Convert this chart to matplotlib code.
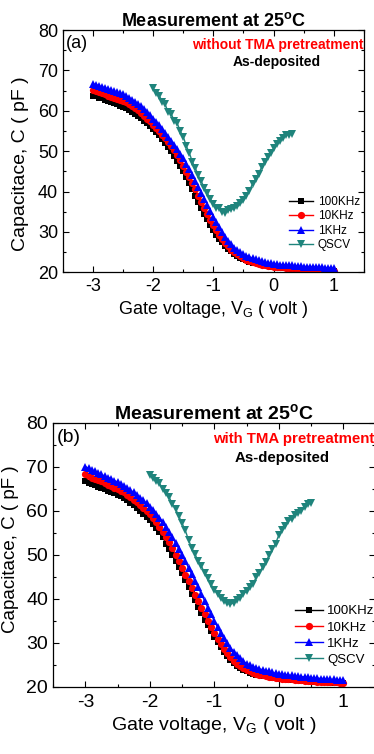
import matplotlib
matplotlib.use('Agg')
import matplotlib.pyplot as plt
from matplotlib.ticker import MultipleLocator
import numpy as np

plt.rcParams['font.family'] = ['Liberation Sans', 'DejaVu Sans']
plt.rcParams['mathtext.fontset'] = 'custom'
plt.rcParams['mathtext.rm'] = 'Liberation Sans'
plt.rcParams['mathtext.bf'] = 'Liberation Sans:bold'
plt.rcParams['mathtext.it'] = 'Liberation Sans:italic'
plt.rcParams['axes.unicode_minus'] = False

# gate voltage sweeps
v_cv = np.round(np.linspace(-3.0, 1.0, 81), 2)
v_qs_a = np.round(np.linspace(-2.0, 0.3, 47), 2)
v_qs_b = np.round(np.linspace(-2.0, 0.5, 51), 2)

# (a) without TMA pretreatment
c100k_a = [63.8, 63.6, 63.3, 63.1, 62.8, 62.5, 62.2, 61.9, 61.6, 61.3,
           61.0, 60.6, 60.2, 59.8, 59.3, 58.8, 58.2, 57.6, 57.0, 56.3,
           55.5, 54.7, 53.9, 53.0, 52.1, 51.1, 50.0, 48.9, 47.6, 46.3,
           45.0, 43.5, 42.0, 40.5, 39.0, 37.5, 36.0, 34.5, 33.1, 31.8,
           30.5, 29.3, 28.3, 27.4, 26.6, 25.8, 25.2, 24.6, 24.1, 23.6,
           23.2, 22.9, 22.6, 22.4, 22.2, 22.0, 21.8, 21.7, 21.5, 21.4,
           21.3, 21.2, 21.1, 21.1, 21.0, 21.0, 20.9, 20.9, 20.8, 20.8,
           20.7, 20.7, 20.6, 20.6, 20.5, 20.5, 20.5, 20.4, 20.4, 20.3,
           20.3]
c10k_a = [65.2, 64.9, 64.6, 64.4, 64.1, 63.8, 63.5, 63.2, 62.9, 62.7,
          62.5, 62.1, 61.7, 61.2, 60.7, 60.1, 59.5, 58.8, 58.1, 57.4,
          56.6, 55.8, 55.0, 54.1, 53.2, 52.3, 51.3, 50.2, 49.0, 47.7,
          46.3, 44.9, 43.5, 42.0, 40.5, 39.0, 37.5, 36.0, 34.5, 33.0,
          31.6, 30.4, 29.3, 28.3, 27.3, 26.4, 25.6, 25.0, 24.4, 23.9,
          23.5, 23.1, 22.8, 22.5, 22.3, 22.1, 21.9, 21.8, 21.6, 21.5,
          21.4, 21.3, 21.2, 21.2, 21.1, 21.1, 21.0, 21.0, 20.9, 20.9,
          20.8, 20.8, 20.7, 20.7, 20.6, 20.6, 20.5, 20.5, 20.5, 20.4,
          20.4]
c1k_a = [66.7, 66.5, 66.2, 65.9, 65.7, 65.4, 65.1, 64.8, 64.6, 64.4,
         64.1, 63.7, 63.3, 62.8, 62.3, 61.7, 61.1, 60.4, 59.7, 58.9,
         58.1, 57.3, 56.4, 55.5, 54.6, 53.6, 52.6, 51.6, 50.5, 49.4,
         48.2, 46.9, 45.5, 44.1, 42.7, 41.2, 39.7, 38.2, 36.7, 35.2,
         33.8, 32.4, 31.1, 29.9, 28.8, 27.8, 26.9, 26.1, 25.4, 24.9,
         24.5, 24.1, 23.8, 23.5, 23.2, 22.9, 22.7, 22.5, 22.3, 22.2,
         22.1, 22.0, 21.9, 21.8, 21.8, 21.7, 21.7, 21.6, 21.6, 21.5,
         21.4, 21.4, 21.4, 21.3, 21.3, 21.2, 21.2, 21.1, 21.1, 21.0,
         21.0]
qscv_a = [65.6, 64.4, 63.8, 62.3, 61.6, 59.6, 59.2, 57.6, 56.9, 55.0,
          53.6, 51.3, 49.6, 47.4, 45.8, 44.0, 42.5, 40.9, 39.6, 38.2,
          37.0, 36.0, 35.8, 35.0, 34.7, 35.3, 35.6, 35.9, 36.3, 37.1,
          37.8, 39.0, 40.2, 41.9, 43.1, 44.4, 46.0, 47.3, 48.6, 49.6,
          50.7, 51.9, 52.6, 53.2, 53.9, 54.1, 54.3]

# (b) with TMA pretreatment
c100k_b = [66.7, 66.4, 66.1, 65.8, 65.5, 65.2, 64.9, 64.6, 64.3, 64.0,
           63.7, 63.3, 62.9, 62.4, 61.9, 61.3, 60.7, 60.0, 59.3, 58.7,
           58.0, 57.1, 56.2, 55.2, 54.0, 52.6, 51.4, 50.1, 48.7, 47.3,
           45.8, 44.3, 42.7, 41.2, 39.7, 38.2, 36.8, 35.3, 34.0, 32.7,
           31.4, 30.2, 29.1, 28.0, 27.0, 26.1, 25.4, 24.8, 24.3, 23.9,
           23.5, 23.2, 23.0, 22.8, 22.6, 22.5, 22.4, 22.2, 22.1, 22.0,
           21.9, 21.8, 21.7, 21.6, 21.6, 21.5, 21.5, 21.4, 21.3, 21.3,
           21.2, 21.2, 21.1, 21.1, 21.0, 21.0, 20.9, 20.9, 20.8, 20.8,
           20.8]
c10k_b = [68.3, 68.0, 67.6, 67.3, 67.0, 66.7, 66.4, 66.0, 65.7, 65.3,
          65.0, 64.6, 64.2, 63.7, 63.2, 62.6, 62.0, 61.3, 60.6, 59.9,
          59.2, 58.3, 57.4, 56.4, 55.3, 54.1, 52.9, 51.6, 50.1, 48.6,
          47.0, 45.5, 44.0, 42.5, 41.0, 39.5, 38.0, 36.5, 35.0, 33.6,
          32.3, 31.0, 29.8, 28.7, 27.7, 26.8, 26.0, 25.3, 24.8, 24.3,
          23.9, 23.5, 23.2, 23.0, 22.8, 22.6, 22.5, 22.3, 22.2, 22.1,
          22.0, 21.9, 21.8, 21.7, 21.7, 21.6, 21.5, 21.5, 21.4, 21.4,
          21.3, 21.3, 21.2, 21.2, 21.1, 21.1, 21.0, 21.0, 21.0, 20.9,
          20.9]
c1k_b = [70.1, 69.7, 69.3, 69.0, 68.6, 68.3, 67.9, 67.6, 67.3, 66.9,
         66.6, 66.2, 65.7, 65.2, 64.7, 64.2, 63.6, 63.0, 62.4, 61.7,
         61.0, 60.2, 59.4, 58.5, 57.5, 56.4, 55.2, 54.0, 52.7, 51.4,
         50.0, 48.6, 47.1, 45.6, 44.1, 42.6, 41.1, 39.6, 38.0, 36.5,
         35.0, 33.6, 32.3, 31.1, 29.9, 28.9, 28.0, 27.2, 26.5, 25.9,
         25.3, 24.9, 24.6, 24.3, 24.1, 23.9, 23.7, 23.5, 23.3, 23.1,
         23.0, 22.9, 22.8, 22.7, 22.6, 22.5, 22.4, 22.3, 22.3, 22.2,
         22.1, 22.0, 22.0, 21.9, 21.9, 21.8, 21.7, 21.7, 21.6, 21.6,
         21.5]
qscv_b = [68.2, 67.6, 66.9, 66.3, 65.0, 64.0, 63.1, 61.6, 60.5, 58.8,
          57.2, 55.6, 53.4, 51.6, 50.2, 48.6, 47.5, 45.8, 44.7, 43.3,
          42.0, 41.2, 40.1, 39.6, 39.0, 38.8, 39.1, 39.8, 40.3, 41.2,
          41.7, 42.6, 43.5, 44.9, 46.0, 47.3, 48.4, 50.0, 51.4, 52.6,
          54.5, 55.6, 56.6, 57.7, 58.2, 59.0, 59.6, 60.0, 60.8, 61.5,
          61.9]

labels = ['100KHz', '10KHz', '1KHz', 'QSCV']
teal = '#1f847c'


def draw_panel(ax, c100k, c10k, c1k, v_qs, qscv, tag, note, fs):
    ax.plot(v_cv, c100k, 's-', color='black', ms=4.8, lw=1, mew=0, label=labels[0])
    ax.plot(v_cv, c10k, 'o-', color='red', ms=5.2, lw=1, mew=0, label=labels[1])
    ax.plot(v_cv, c1k, '^-', color='blue', ms=5.8, lw=1, mew=0, label=labels[2])
    ax.plot(v_qs, qscv, 'v-', color=teal, ms=6.2, lw=1, mew=0, label=labels[3])

    ax.set_xlim(-3.5, 1.5)
    ax.set_ylim(20, 80)
    ax.xaxis.set_major_locator(MultipleLocator(1))
    ax.xaxis.set_minor_locator(MultipleLocator(0.5))
    ax.yaxis.set_major_locator(MultipleLocator(10))
    ax.yaxis.set_minor_locator(MultipleLocator(5))
    ax.tick_params(which='both', direction='in', top=True, right=True, width=0.8)
    ax.tick_params(which='major', length=4, labelsize=fs['tick'])
    ax.tick_params(which='minor', length=2.5)
    ax.tick_params(axis='x', pad=fs['xpad'])
    for s in ax.spines.values():
        s.set_linewidth(0.9)

    ax.set_title(r'Measurement at 25$^\mathbf{o}$C', fontsize=fs['title'],
                 fontweight='bold', pad=3)
    ax.set_xlabel(r'Gate voltage, V$_\mathrm{G}$ ( volt )', fontsize=fs['label'], labelpad=3)
    ax.set_ylabel('Capacitace, C ( pF )', fontsize=fs['ylabel'])

    ax.text(0.01, 0.945, tag, transform=ax.transAxes, fontsize=fs['tick'],
            va='center', ha='left')
    ax.text(fs['note_x'], 0.94, note, transform=ax.transAxes, fontsize=fs['note'],
            fontweight='bold', color='red', va='center', ha='left')
    ax.text(0.71, 0.868, 'As-deposited', transform=ax.transAxes, fontsize=fs['note'],
            fontweight='bold', va='center', ha='center')

    ax.legend(loc='upper left', bbox_to_anchor=(0.75, fs['leg_y']), frameon=False,
              fontsize=fs['legend'], borderpad=0, borderaxespad=0, handlelength=2.1,
              handletextpad=0.35, labelspacing=fs['leg_sp'])


fig = plt.figure(figsize=(3.74, 7.54), dpi=100)
ax1 = fig.add_axes([0.168, 0.639, 0.805, 0.321])
ax2 = fig.add_axes([0.142, 0.089, 0.862, 0.350])

fs_a = dict(tick=13, xpad=4, title=13, label=13, ylabel=14, note=10, note_x=0.43,
            legend=8.5, leg_y=0.315, leg_sp=0.2)
fs_b = dict(tick=14, xpad=5, title=14, label=14, ylabel=13.5, note=10.8, note_x=0.497,
            legend=9.5, leg_y=0.31, leg_sp=0.3)

draw_panel(ax1, c100k_a, c10k_a, c1k_a, v_qs_a, qscv_a, '(a)',
           'without TMA pretreatment', fs_a)
draw_panel(ax2, c100k_b, c10k_b, c1k_b, v_qs_b, qscv_b, '(b)',
           'with TMA pretreatment', fs_b)

ax1.yaxis.set_label_coords(-0.113, 0.45)
ax2.yaxis.set_label_coords(-0.106, 0.523)

fig.savefig('out.png', dpi=100)
plt.close(fig)
